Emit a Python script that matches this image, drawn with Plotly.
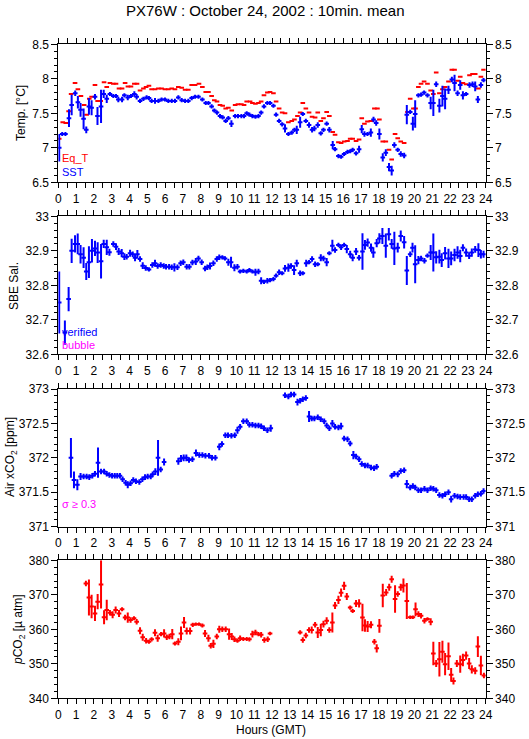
import plotly.graph_objects as go

# ---------------- data (hours GMT, 10-min means) ----------------
sst_t = [0.05,0.22,0.4,0.6,0.75,0.95,1.1,1.25,1.42,1.57,
         1.72,1.87,2.06,2.2,2.4,2.55,2.72,2.9,3.09,3.24,
         3.37,3.58,3.71,3.9,4.08,4.27,4.4,4.59,4.78,4.96,
         5.09,5.24,5.43,5.62,5.8,5.99,6.18,6.37,6.55,6.74,
         6.93,7.12,7.3,7.49,7.68,7.87,8.09,8.28,8.43,8.61,
         8.76,8.91,9.08,9.23,9.4,9.55,9.72,9.93,10.09,10.28,
         10.43,10.58,10.73,10.9,11.07,11.24,11.39,11.55,11.74,11.89,
         12.08,12.23,12.4,12.57,12.73,12.92,13.11,13.26,13.39,13.58,
         13.73,13.9,14.08,14.25,14.38,14.57,14.74,14.89,15.07,15.22,
         15.41,15.54,15.73,15.88,16.05,16.24,16.39,16.53,16.72,16.89,
         17.04,17.19,17.36,17.55,17.7,17.85,18.03,18.22,18.39,18.57,
         18.72,18.87,19.06,19.23,19.42,19.57,19.76,19.91,20.04,20.22,
         20.37,20.54,20.73,20.91,21.06,21.22,21.4,21.57,21.72,21.91,
         22.1,22.25,22.42,22.57,22.72,22.9,23.09,23.26,23.41,23.56,
         23.73,23.88]
sst = [7.00,7.20,7.20,7.43,7.62,7.79,7.66,7.55,7.42,7.26,
       7.60,7.58,7.74,7.46,7.60,7.78,7.71,7.78,7.75,7.75,
       7.70,7.70,7.76,7.73,7.75,7.78,7.74,7.68,7.71,7.73,
       7.72,7.68,7.68,7.68,7.70,7.70,7.68,7.68,7.68,7.73,
       7.69,7.68,7.68,7.72,7.74,7.74,7.70,7.65,7.65,7.60,
       7.54,7.51,7.46,7.44,7.39,7.43,7.35,7.46,7.46,7.46,
       7.46,7.50,7.48,7.46,7.45,7.46,7.51,7.60,7.65,7.65,
       7.61,7.48,7.39,7.34,7.28,7.20,7.22,7.26,7.26,7.37,
       7.49,7.39,7.33,7.26,7.28,7.33,7.21,7.26,7.35,7.26,
       7.04,6.98,6.88,6.87,6.91,6.94,6.95,6.97,6.92,6.98,
       7.27,7.20,7.20,7.22,7.41,7.36,7.20,6.86,6.93,6.72,
       6.67,7.04,6.97,6.91,6.89,7.48,7.52,7.35,7.49,7.76,
       7.77,7.80,7.76,7.65,7.65,7.92,7.61,7.75,7.71,7.84,
       7.99,7.94,7.79,7.91,7.76,7.78,7.91,7.92,7.89,7.70,
       7.91,7.98]
sst_sd = [0.20,0.03,0.03,0.13,0.15,0.04,0.09,0.10,0.15,0.05,
          0.12,0.11,0.04,0.13,0.24,0.06,0.06,0.03,0.03,0.03,
          0.04,0.04,0.03,0.04,0.03,0.04,0.04,0.03,0.03,0.03,
          0.03,0.03,0.04,0.03,0.03,0.03,0.03,0.03,0.03,0.03,
          0.03,0.03,0.03,0.03,0.03,0.03,0.03,0.03,0.03,0.03,
          0.03,0.03,0.03,0.03,0.03,0.03,0.05,0.03,0.03,0.03,
          0.03,0.03,0.03,0.03,0.03,0.03,0.03,0.03,0.03,0.03,
          0.03,0.03,0.03,0.03,0.06,0.03,0.03,0.03,0.06,0.08,
          0.03,0.03,0.04,0.04,0.04,0.04,0.03,0.03,0.03,0.04,
          0.06,0.03,0.03,0.03,0.03,0.03,0.03,0.03,0.03,0.05,
          0.06,0.04,0.03,0.06,0.04,0.04,0.08,0.06,0.05,0.06,
          0.07,0.04,0.03,0.04,0.04,0.14,0.03,0.10,0.20,0.03,
          0.03,0.03,0.03,0.09,0.19,0.04,0.10,0.15,0.15,0.06,
          0.04,0.12,0.04,0.07,0.06,0.03,0.04,0.04,0.07,0.05,
          0.04,0.03]

eqt_t = [0.05,0.25,0.42,0.58,0.72,0.94,1.1,1.27,1.45,1.59,
         1.74,1.87,2.06,2.21,2.38,2.57,2.72,2.9,3.09,3.24,
         3.41,3.58,3.75,3.91,4.08,4.27,4.42,4.59,4.78,4.93,
         5.09,5.24,5.43,5.62,5.8,5.99,6.18,6.37,6.55,6.74,
         6.93,7.12,7.3,7.49,7.68,7.9,8.09,8.28,8.43,8.61,
         8.76,8.91,9.08,9.23,9.4,9.55,9.74,9.93,10.09,10.28,
         10.43,10.58,10.77,10.9,11.07,11.24,11.39,11.55,11.74,11.89,
         12.08,12.23,12.4,12.57,12.73,12.92,13.11,13.26,13.43,13.58,
         13.73,13.9,14.08,14.25,14.42,14.57,14.74,14.89,15.07,15.22,
         15.41,15.54,15.73,15.88,16.05,16.24,16.39,16.53,16.72,16.89,
         17.04,17.19,17.36,17.55,17.75,17.92,18.03,18.22,18.39,18.57,
         18.72,18.91,19.06,19.23,19.42,19.61,19.76,19.94,20.06,20.22,
         20.37,20.54,20.73,20.91,21.06,21.22,21.4,21.57,21.72,21.91,
         22.1,22.25,22.42,22.57,22.72,22.9,23.09,23.26,23.41,23.59,
         23.73,23.88]
eqt = [7.13,7.37,7.36,7.53,7.78,7.94,7.85,7.75,7.62,7.48,
       7.71,7.74,7.91,7.68,7.68,7.95,7.88,7.94,7.93,7.93,
       7.86,7.86,7.94,7.89,7.89,7.93,7.93,7.83,7.86,7.88,
       7.90,7.85,7.85,7.86,7.86,7.85,7.85,7.86,7.85,7.88,
       7.87,7.84,7.84,7.91,7.91,7.93,7.88,7.81,7.81,7.75,
       7.69,7.67,7.62,7.61,7.57,7.58,7.54,7.62,7.63,7.63,
       7.62,7.67,7.67,7.65,7.64,7.65,7.67,7.76,7.80,7.81,
       7.79,7.67,7.57,7.51,7.50,7.37,7.39,7.41,7.46,7.51,
       7.65,7.57,7.51,7.45,7.44,7.51,7.39,7.43,7.52,7.46,
       7.23,7.19,7.08,7.07,7.09,7.10,7.13,7.13,7.10,7.12,
       7.43,7.35,7.38,7.39,7.57,7.57,7.41,7.09,7.09,6.97,
       6.83,7.20,7.14,7.09,7.07,7.52,7.71,7.57,7.57,7.88,
       7.93,7.96,7.93,7.83,7.78,8.09,7.79,7.85,7.88,7.96,
       8.13,8.13,7.97,8.03,7.94,7.92,8.05,8.07,8.07,7.86,
       8.03,8.13]

sal_t = [0.05,0.37,0.58,0.75,0.94,1.09,1.25,1.42,1.57,1.72,
         1.89,2.06,2.21,2.4,2.55,2.72,2.87,3.09,3.24,3.39,
         3.56,3.71,3.84,4.03,4.18,4.31,4.44,4.59,4.74,4.91,
         5.09,5.28,5.43,5.58,5.75,5.92,6.05,6.22,6.37,6.52,
         6.69,6.87,7.02,7.21,7.36,7.53,7.72,7.87,8.05,8.24,
         8.37,8.52,8.71,8.9,9.04,9.21,9.36,9.55,9.7,9.89,
         10.06,10.21,10.39,10.58,10.73,10.9,11.07,11.24,11.39,11.55,
         11.74,11.89,12.08,12.23,12.4,12.57,12.73,12.92,13.07,13.24,
         13.39,13.58,13.73,13.92,14.08,14.25,14.42,14.57,14.74,14.89,
         15.07,15.22,15.39,15.54,15.73,15.88,16.05,16.2,16.39,16.53,
         16.72,16.89,17.08,17.22,17.37,17.56,17.69,17.88,18.03,18.2,
         18.39,18.56,18.72,18.87,19.06,19.23,19.42,19.57,19.76,19.89,
         20.04,20.22,20.37,20.56,20.73,20.91,21.06,21.22,21.4,21.53,
         21.72,21.91,22.06,22.25,22.42,22.57,22.72,22.9,23.07,23.22,
         23.41,23.59,23.73,23.88]
sal = [32.750,32.663,32.760,32.900,32.920,32.920,32.890,32.880,32.840,32.867,
       32.900,32.907,32.895,32.870,32.920,32.910,32.896,32.920,32.912,32.898,
       32.893,32.883,32.883,32.893,32.890,32.880,32.890,32.876,32.857,32.850,
       32.846,32.859,32.864,32.856,32.859,32.856,32.854,32.854,32.852,32.852,
       32.852,32.864,32.867,32.854,32.854,32.866,32.869,32.878,32.867,32.849,
       32.852,32.856,32.864,32.876,32.881,32.881,32.878,32.867,32.867,32.851,
       32.854,32.840,32.842,32.840,32.844,32.840,32.838,32.840,32.813,32.810,
       32.813,32.815,32.818,32.828,32.838,32.835,32.849,32.851,32.856,32.844,
       32.864,32.835,32.835,32.864,32.867,32.876,32.861,32.861,32.880,32.878,
       32.867,32.893,32.915,32.902,32.917,32.910,32.917,32.905,32.890,32.880,
       32.898,32.880,32.898,32.917,32.924,32.909,32.895,32.922,32.936,32.943,
       32.915,32.948,32.920,32.907,32.909,32.943,32.925,32.843,32.890,32.909,
       32.861,32.873,32.878,32.871,32.886,32.895,32.895,32.881,32.883,32.873,
       32.893,32.878,32.878,32.888,32.895,32.885,32.909,32.895,32.886,32.895,
       32.904,32.902,32.890,32.890]
sal_sd = [0.090,0.035,0.035,0.035,0.025,0.030,0.027,0.030,0.025,0.046,
          0.034,0.022,0.030,0.050,0.012,0.022,0.010,0.008,0.010,0.010,
          0.012,0.010,0.008,0.010,0.008,0.010,0.012,0.008,0.010,0.008,
          0.006,0.008,0.010,0.008,0.008,0.008,0.008,0.008,0.008,0.012,
          0.008,0.008,0.008,0.008,0.008,0.008,0.010,0.008,0.008,0.008,
          0.008,0.010,0.008,0.008,0.008,0.006,0.006,0.010,0.016,0.010,
          0.008,0.006,0.006,0.006,0.006,0.006,0.010,0.008,0.010,0.006,
          0.008,0.006,0.006,0.006,0.008,0.006,0.010,0.012,0.008,0.014,
          0.010,0.008,0.006,0.010,0.006,0.008,0.008,0.006,0.010,0.008,
          0.012,0.006,0.017,0.008,0.006,0.008,0.006,0.012,0.010,0.010,
          0.010,0.008,0.053,0.014,0.012,0.012,0.015,0.012,0.015,0.023,
          0.035,0.018,0.014,0.048,0.014,0.016,0.018,0.042,0.008,0.014,
          0.055,0.012,0.008,0.008,0.006,0.022,0.055,0.018,0.020,0.020,
          0.018,0.028,0.020,0.018,0.018,0.018,0.010,0.012,0.010,0.012,
          0.010,0.020,0.012,0.010]

air_t = [0.71,0.88,1.07,1.25,1.42,1.59,1.74,1.91,2.06,2.23,
         2.4,2.57,2.72,2.87,3.02,3.17,3.31,3.46,3.61,3.78,
         3.9,4.06,4.21,4.36,4.55,4.72,4.87,5.02,5.19,5.3,
         5.45,5.6,5.75,5.94,6.74,6.89,7.04,7.19,7.34,7.53,
         7.73,7.92,8.09,8.26,8.46,8.63,8.82,9.04,9.19,9.38,
         9.53,9.72,9.91,10.06,10.21,10.39,10.58,10.73,10.9,11.07,
         11.24,11.39,11.55,11.74,11.93,12.73,12.92,13.07,13.24,13.43,
         13.58,13.73,13.9,14.08,14.23,14.38,14.57,14.74,14.93,15.07,
         15.22,15.39,15.54,15.73,15.88,16.05,16.24,16.39,16.57,16.72,
         16.89,17.04,17.22,17.37,17.56,17.73,17.88,18.72,18.87,19.06,
         19.23,19.42,19.57,19.76,19.91,20.04,20.22,20.37,20.56,20.73,
         20.91,21.06,21.22,21.4,21.57,21.72,21.91,22.06,22.25,22.42,
         22.57,22.76,22.9,23.07,23.22,23.41,23.56,23.73,23.88]
air = [372.00,371.68,371.61,371.73,371.73,371.73,371.72,371.74,371.77,371.93,
       371.80,371.80,371.77,371.75,371.74,371.74,371.74,371.74,371.69,371.64,
       371.61,371.63,371.68,371.66,371.65,371.69,371.72,371.73,371.73,371.76,
       371.80,372.00,371.83,371.94,371.95,371.99,372.00,372.00,371.97,371.98,
       372.07,372.04,372.04,372.03,372.03,372.00,372.00,372.16,372.20,372.33,
       372.33,372.32,372.33,372.40,372.45,372.53,372.53,372.48,372.48,372.47,
       372.47,372.46,372.43,372.40,372.43,372.91,372.89,372.92,372.92,372.81,
       372.83,372.85,372.87,372.60,372.57,372.57,372.59,372.56,372.53,372.47,
       372.43,372.50,372.45,372.44,372.46,372.28,372.27,372.21,372.04,372.02,
       371.98,371.91,371.89,371.89,371.86,371.85,371.87,371.74,371.77,371.76,
       371.81,371.82,371.62,371.57,371.59,371.57,371.53,371.53,371.55,371.53,
       371.56,371.55,371.53,371.46,371.45,371.47,371.50,371.40,371.45,371.44,
       371.43,371.43,371.43,371.40,371.40,371.45,371.47,371.48,371.52]
air_sd = [0.29,0.12,0.08,0.05,0.04,0.04,0.04,0.04,0.04,0.22,
          0.04,0.04,0.04,0.04,0.04,0.04,0.04,0.04,0.04,0.04,
          0.05,0.04,0.04,0.04,0.04,0.04,0.04,0.04,0.04,0.04,
          0.05,0.26,0.04,0.05,0.05,0.05,0.05,0.05,0.04,0.04,
          0.05,0.04,0.04,0.04,0.04,0.04,0.04,0.05,0.04,0.04,
          0.04,0.04,0.04,0.05,0.04,0.04,0.04,0.04,0.04,0.04,
          0.04,0.04,0.04,0.04,0.05,0.04,0.04,0.04,0.04,0.05,
          0.04,0.04,0.04,0.08,0.04,0.04,0.04,0.04,0.04,0.04,
          0.04,0.05,0.04,0.04,0.05,0.04,0.04,0.04,0.06,0.04,
          0.04,0.04,0.04,0.04,0.04,0.04,0.04,0.04,0.04,0.04,
          0.04,0.04,0.06,0.04,0.04,0.04,0.04,0.04,0.04,0.04,
          0.04,0.04,0.04,0.04,0.04,0.04,0.04,0.05,0.04,0.04,
          0.04,0.04,0.04,0.04,0.04,0.04,0.04,0.04,0.04]

pco2_t = [1.55,1.72,1.87,2.06,2.21,2.4,2.57,2.72,2.9,3.05,
          3.22,3.41,3.58,3.75,3.9,4.06,4.25,4.4,4.59,4.74,
          4.93,5.09,5.24,5.43,5.58,5.77,5.94,6.09,6.24,6.4,
          6.55,6.74,6.89,7.06,7.21,7.4,7.55,7.72,7.9,8.09,
          8.24,8.43,8.56,8.71,8.9,9.04,9.21,9.4,9.59,9.74,
          9.89,10.06,10.21,10.39,10.58,10.73,10.9,11.07,11.24,11.39,
          11.57,11.76,11.89,13.58,13.73,13.9,14.08,14.23,14.42,14.57,
          14.74,14.89,15.07,15.22,15.39,15.54,15.73,15.88,16.05,16.2,
          16.39,16.53,16.72,16.89,17.08,17.22,17.37,17.56,17.75,17.88,
          18.03,18.22,18.41,18.58,18.72,18.91,19.06,19.23,19.38,19.57,
          19.76,19.91,20.06,20.22,20.37,20.56,20.73,20.91,21.06,21.22,
          21.4,21.57,21.72,21.91,22.06,22.19,22.38,22.57,22.72,22.9,
          23.07,23.22,23.41,23.56,23.73,23.9]
pco2 = [373.3,369.2,366.6,364.6,368.0,373.0,363.5,365.6,364.8,364.2,
        365.6,364.6,365.8,363.4,363.4,362.7,363.2,362.2,359.6,357.7,
        356.7,356.4,357.1,359.0,357.4,358.6,358.8,357.7,357.9,358.6,
        355.9,356.4,358.8,362.0,359.5,359.5,361.3,361.5,361.5,361.1,
        358.8,357.4,355.2,355.8,357.9,360.0,360.0,360.0,358.6,357.9,
        357.1,356.7,357.4,357.2,357.2,357.1,358.6,359.1,358.6,358.4,
        356.9,357.1,358.8,359.1,356.9,358.2,359.8,359.8,361.3,359.1,
        359.8,361.5,362.5,359.8,362.0,366.9,368.5,370.6,372.6,369.5,
        366.3,365.3,367.5,367.5,363.4,361.1,360.8,361.3,356.4,354.5,
        361.0,369.8,370.7,372.2,374.5,368.8,370.2,372.2,372.7,368.2,
        363.5,363.5,365.8,364.4,363.9,362.5,363.0,362.2,353.0,350.1,
        351.3,353.5,349.9,352.2,346.8,345.0,350.1,349.9,351.1,352.4,
        350.1,348.4,348.0,355.0,349.5,346.6]
pco2_sd = [0.8,5.2,3.4,2.2,2.2,7.0,2.0,3.0,0.8,1.0,
           1.0,1.0,0.6,0.8,1.5,0.8,0.6,0.8,1.0,1.0,
           0.8,0.6,0.6,1.0,1.0,0.6,1.2,0.8,0.8,1.5,
           0.6,1.0,2.0,1.6,1.0,1.0,0.6,0.5,0.5,0.6,
           1.0,1.0,0.8,1.2,0.8,1.0,0.8,0.8,1.6,1.0,
           0.8,0.6,0.8,0.6,0.6,0.6,1.0,0.8,0.6,0.8,
           0.8,0.8,0.5,0.6,0.8,0.8,0.8,1.0,0.8,1.6,
           1.8,1.0,1.0,0.8,2.9,1.0,1.2,1.2,1.2,1.0,
           0.6,0.6,1.0,1.2,4.0,1.8,1.6,1.0,0.8,1.2,
           2.0,3.4,1.0,1.0,1.0,4.0,0.8,1.0,2.0,5.2,
           0.5,0.5,2.0,0.8,0.8,0.8,0.5,1.0,3.4,1.0,
           5.0,3.2,3.2,4.0,2.0,1.0,1.0,2.5,1.8,1.2,
           1.6,1.2,1.0,3.0,2.8,0.8]

hours = list(range(0, 25))
temp_range, sal_range, air_range, pco2_range = [6.5, 8.5], [32.6, 33.0], [371.0, 373.0], [340, 380]
temp_ticks = [6.5, 7, 7.5, 8, 8.5]
sal_ticks = [32.6, 32.7, 32.8, 32.9, 33]
air_ticks = [371, 371.5, 372, 372.5, 373]
pco2_ticks = [340, 350, 360, 370, 380]

# ---------------- styling ----------------
W, H = 529, 739
FONT = "Liberation Sans, Arial, Helvetica, sans-serif"
BLUE, RED, MAG = "#0000ff", "#ff0000", "#ff00ff"
XL, XR = 58.3, 485.7
panels_px = [(44.3, 182.3), (216.3, 354.3), (389.0, 526.7), (560.3, 698.3)]


def py(p):
    return 1 - p / H


def px(p):
    return p / W


fig = go.Figure()


def add_series(t, v, sd, color, ax):
    xa, ya = ax
    kw = dict(x=t, y=v, mode="markers", xaxis=xa, yaxis=ya,
              marker=dict(size=2, color=color, opacity=0),
              error_x=dict(type="constant", value=0.13, thickness=2, width=0, color=color),
              showlegend=False, hoverinfo="x+y")
    if sd is not None:
        kw["error_y"] = dict(type="data", array=sd, thickness=2, width=0, color=color)
    fig.add_trace(go.Scatter(**kw))


add_series(eqt_t, eqt, None, RED, ("x", "y"))
add_series(sst_t, sst, sst_sd, BLUE, ("x", "y"))
add_series(sal_t, sal, sal_sd, BLUE, ("x2", "y2"))
add_series(air_t, air, air_sd, BLUE, ("x3", "y3"))
add_series(pco2_t, pco2, pco2_sd, RED, ("x4", "y4"))

ranges = [temp_range, sal_range, air_range, pco2_range]
ticks = [temp_ticks, sal_ticks, air_ticks, pco2_ticks]
minor = [0.1, 0.02, 0.1, 2]

layout = dict(
    width=W, height=H, margin=dict(l=0, r=0, t=0, b=0, autoexpand=False),
    paper_bgcolor="white", plot_bgcolor="white",
    font=dict(family=FONT, size=12, color="black"),
    showlegend=False,
)

for i in range(4):
    n = i + 1
    sfx = "" if n == 1 else str(n)
    top, bot = panels_px[i]
    layout["xaxis" + sfx] = dict(
        domain=[px(XL), px(XR)], anchor="y" + sfx, range=[0, 24], automargin=False,
        tickmode="array", tickvals=hours, ticktext=[str(h) for h in hours],
        ticks="outside", ticklen=5, tickwidth=1, tickcolor="black",
        minor=dict(dtick=0.5, ticklen=5, ticks="outside", tickcolor="black"),
        showline=True, linecolor="black", linewidth=1, mirror="ticks",
        showgrid=False, zeroline=False, tickfont=dict(size=12),
    )
    layout["yaxis" + sfx] = dict(
        domain=[py(bot), py(top)], anchor="x" + sfx, range=ranges[i], automargin=False,
        tickmode="array", tickvals=ticks[i], ticktext=[f"{v:g}" for v in ticks[i]],
        ticks="outside", ticklen=6, tickwidth=1, tickcolor="black",
        minor=dict(dtick=minor[i], ticklen=3, ticks="outside", tickcolor="black"),
        showline=True, linecolor="black", linewidth=1, mirror=True,
        showgrid=False, zeroline=False, tickfont=dict(size=12),
    )
    rn = n + 4
    layout["yaxis" + str(rn)] = dict(
        overlaying="y" + sfx, side="right", anchor="x" + sfx, range=ranges[i],
        automargin=False,
        tickmode="array", tickvals=ticks[i], ticktext=[f"{v:g}" for v in ticks[i]],
        ticks="outside", ticklen=6, tickwidth=1, tickcolor="black",
        minor=dict(dtick=minor[i], ticklen=3, ticks="outside", tickcolor="black"),
        showline=True, linecolor="black", linewidth=1,
        showgrid=False, zeroline=False, tickfont=dict(size=12),
    )
    fig.add_trace(go.Scatter(x=[12], y=[sum(ranges[i]) / 2], mode="markers",
                             marker=dict(opacity=0), xaxis="x" + sfx, yaxis="y" + str(rn),
                             hoverinfo="skip", showlegend=False))

ann = []


def text(s, x, y, size=12, color="black", angle=0, xanchor="center"):
    ann.append(dict(text=s, x=px(x), y=py(y), xref="paper", yref="paper",
                    showarrow=False, font=dict(size=size, color=color, family=FONT),
                    textangle=angle, xanchor=xanchor, yanchor="middle"))


text("PX76W : October 24, 2002 : 10min. mean", 264.5, 10, size=15)
text("Temp. [°C]", 21, 113, angle=-90)
text("SBE Sal.", 14, 286, angle=-90)
text("Air xCO<sub>2</sub> [ppm]", 11, 457, angle=-90)
text("<i>p</i>CO<sub>2</sub> [µ atm]", 19, 630, angle=-90)
text("Hours (GMT)", 271, 730)
text("Eq_T", 60, 158, size=11, color=RED, xanchor="left")
text("SST", 60, 172, size=11, color=BLUE, xanchor="left")
text("verified", 60, 332, size=11, color=BLUE, xanchor="left")
text("bubble", 60, 345, size=11, color=MAG, xanchor="left")
text("σ ≥ 0.3", 60, 504, size=11, color=MAG, xanchor="left")
layout["annotations"] = ann

fig.update_layout(**layout)
fig.write_html("out.html",
               config={"displayModeBar": False, "staticPlot": True},
               post_script="document.body.style.margin='0px';"
                           "document.body.style.overflow='hidden';")
